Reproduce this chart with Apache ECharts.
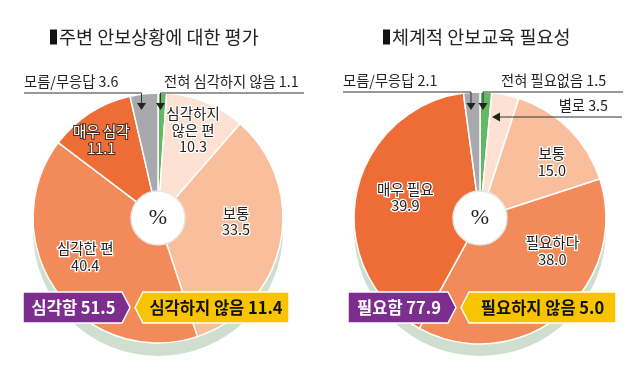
<!DOCTYPE html>
<html><head><meta charset="utf-8">
<script src="https://cdn.jsdelivr.net/npm/echarts@6/dist/echarts.min.js"></script>
<style>html,body{margin:0;padding:0;background:#fff}#c{width:635px;height:378px}</style>
</head><body><div id="c"></div>
<script>
// ---- data ----
const leftTitle = '주변 안보상황에 대한 평가';
const leftCats = ['전혀 심각하지 않음', '심각하지 않은 편', '보통', '심각한 편', '매우 심각', '모름/무응답'];
const leftLabels = ['', '심각하지\n않은 편', '보통', '심각한 편', '매우 심각', ''];
const leftVals = [1.1, 10.3, 33.5, 40.4, 11.1, 3.6];
const leftBadges = ['심각함', '심각하지 않음'];

const rightTitle = '체계적 안보교육 필요성';
const rightCats = ['전혀 필요없음', '별로', '보통', '필요하다', '매우 필요', '모름/무응답'];
const rightLabels = ['', '', '보통', '필요하다', '매우 필요', ''];
const rightVals = [1.5, 3.5, 15.0, 38.0, 39.9, 2.1];
const rightBadges = ['필요함', '필요하지 않음'];

// ---- styles ----
const FONT = '"Noto Sans CJK KR", "Noto Sans", sans-serif';
const sliceColors = ['#63b962', '#fde2d3', '#f9bf9d', '#f28b59', '#ee6c36', '#a7a9ac'];
const leftOffsets = [[0,0],[5,-15],[1,-12],[-9,-7],[-14,-12],[0,0]];
const rightOffsets = [[0,0],[0,0],[16,0],[22,-28],[3,-6],[0,0]];
const darkLabel = {4: true};

function fmt(v){ return v.toFixed(1); }

function pieSeries(cats, labels, vals, center, r, offsets, whiteIdx) {
  return {
    type: 'pie', center: center, radius: [26, r], startAngle: 90, clockwise: true,
    silent: true, z: 3,
    itemStyle: { borderColor: '#fff', borderWidth: 1.5 },
    label: {
      show: true, position: 'inside', fontFamily: FONT, fontSize: 14.5, lineHeight: 16.5,
      color: '#222', textBorderColor: '#fff', textBorderWidth: 2.5,
      formatter: p => labels[p.dataIndex] ? labels[p.dataIndex] + '\n' + fmt(p.value) : ''
    },
    labelLine: { show: false },
    labelLayout: p => ({ dx: offsets[p.dataIndex][0], dy: offsets[p.dataIndex][1] }),
    data: vals.map((v, i) => ({
      name: cats[i], value: v,
      itemStyle: { color: sliceColors[i] },
      label: whiteIdx[i] ? { color: '#fff', textBorderColor: '#4a2a1a', textBorderWidth: 2 } : undefined
    }))
  };
}
function shadowSeries(center, r) {
  return { type: 'pie', center: center, radius: [0, r], silent: true, z: 1,
    label: { show: false }, labelLine: { show: false },
    itemStyle: { color: '#cfdecf' }, data: [{ value: 1 }] };
}
function holeSeries(center) {
  return { type: 'pie', center: center, radius: [0, 27], silent: true, z: 5,
    itemStyle: { color: '#fff', borderColor: '#e6e6e6', borderWidth: 1.5 },
    label: { show: true, position: 'center', formatter: '%', fontFamily: '"Liberation Serif", serif', fontSize: 22, color: '#222' },
    labelLine: { show: false }, data: [{ value: 1 }] };
}

function title(x, y, text) {
  return [
    { type: 'rect', shape: { x: x, y: y - 7.5, width: 7, height: 15 }, style: { fill: '#111' } },
    { type: 'text', style: { x: x + 9, y: y, text: text, fontFamily: FONT, fontSize: 18.5, fill: '#222', textVerticalAlign: 'middle' } }
  ];
}
function line(points) {
  return { type: 'polyline', shape: { points: points }, style: { stroke: '#333', lineWidth: 1, fill: null }, z: 10 };
}
function arrowDown(x, y) {
  return { type: 'polygon', shape: { points: [[x - 4.5, y - 7], [x + 4.5, y - 7], [x, y]] }, style: { fill: '#222' }, z: 10 };
}
function arrowLeft(x, y) {
  return { type: 'polygon', shape: { points: [[x, y], [x + 8, y - 4.5], [x + 8, y + 4.5]] }, style: { fill: '#222' }, z: 10 };
}
function txt(x, y, text, align) {
  return { type: 'text', z: 10, style: { x: x, y: y, text: text, fontFamily: FONT, fontSize: 14.3, fill: '#222', textAlign: align || 'left', textVerticalAlign: 'middle' } };
}
function badges(x0, tipX, x1, y0, y1, t1, t2) {
  const ym = (y0 + y1) / 2;
  return [
    { type: 'polygon', z: 20, shape: { points: [[x0, y0], [tipX - 8, y0], [tipX, ym], [tipX - 8, y1], [x0, y1]] },
      style: { fill: '#7c2e8e', stroke: '#fff', lineWidth: 1.5 } },
    { type: 'text', z: 21, style: { x: (x0 + tipX) / 2 - 3, y: ym, text: t1, fontFamily: FONT, fontWeight: 'bold', fontSize: 16.5, fill: '#fff', textAlign: 'center', textVerticalAlign: 'middle' } },
    { type: 'polygon', z: 20, shape: { points: [[tipX + 5, ym], [tipX + 13, y0], [x1, y0], [x1, y1], [tipX + 13, y1]] },
      style: { fill: '#f8c400', stroke: '#fff', lineWidth: 1.5 } },
    { type: 'text', z: 21, style: { x: (tipX + 13 + x1) / 2, y: ym, text: t2, fontFamily: FONT, fontWeight: 'bold', fontSize: 16.5, fill: '#111', textAlign: 'center', textVerticalAlign: 'middle' } }
  ];
}

const lBad1 = leftBadges[0] + ' ' + fmt(leftVals[3] + leftVals[4]);
const lBad2 = leftBadges[1] + ' ' + fmt(leftVals[0] + leftVals[1]);
const rBad1 = rightBadges[0] + ' ' + fmt(rightVals[3] + rightVals[4]);
const rBad2 = rightBadges[1] + ' ' + fmt(rightVals[0] + rightVals[1]);

const graphic = [].concat(
  title(50, 37, leftTitle),
  title(383, 37, rightTitle),
  // left callouts
  [txt(24, 82, leftCats[5] + ' ' + fmt(leftVals[5])), line([[24, 93], [141.5, 93], [141.5, 104]]), arrowDown(141.5, 110),
   txt(164, 82, leftCats[0] + ' ' + fmt(leftVals[0])), line([[304, 93], [160.5, 93], [160.5, 104]]), arrowDown(160.5, 110)],
  // right callouts
  [txt(343, 81, rightCats[5] + ' ' + fmt(rightVals[5])), line([[343, 92], [471, 92], [471, 104]]), arrowDown(471, 110),
   txt(501, 81, rightCats[0] + ' ' + fmt(rightVals[0])), line([[623, 92], [483, 92], [483, 104]]), arrowDown(483, 110),
   txt(608, 106, rightCats[1] + ' ' + fmt(rightVals[1]), 'right'), line([[622, 117], [499, 117]]), arrowLeft(492, 117)],
  badges(23, 130, 289, 292, 323, lBad1, lBad2),
  badges(348, 456, 616, 292, 323, rBad1, rBad2)
);

const chart = echarts.init(document.getElementById('c'), null, { renderer: 'canvas' });
chart.setOption({
  backgroundColor: '#fff',
  animation: false,
  series: [
    shadowSeries([158, 231], 125),
    pieSeries(leftCats, leftLabels, leftVals, [158, 218], 125, leftOffsets, darkLabel),
    holeSeries([158, 218]),
    shadowSeries([480, 230], 126),
    pieSeries(rightCats, rightLabels, rightVals, [480, 218], 126, rightOffsets, {}),
    holeSeries([480, 218])
  ],
  graphic: graphic
});
</script>
</body></html>
